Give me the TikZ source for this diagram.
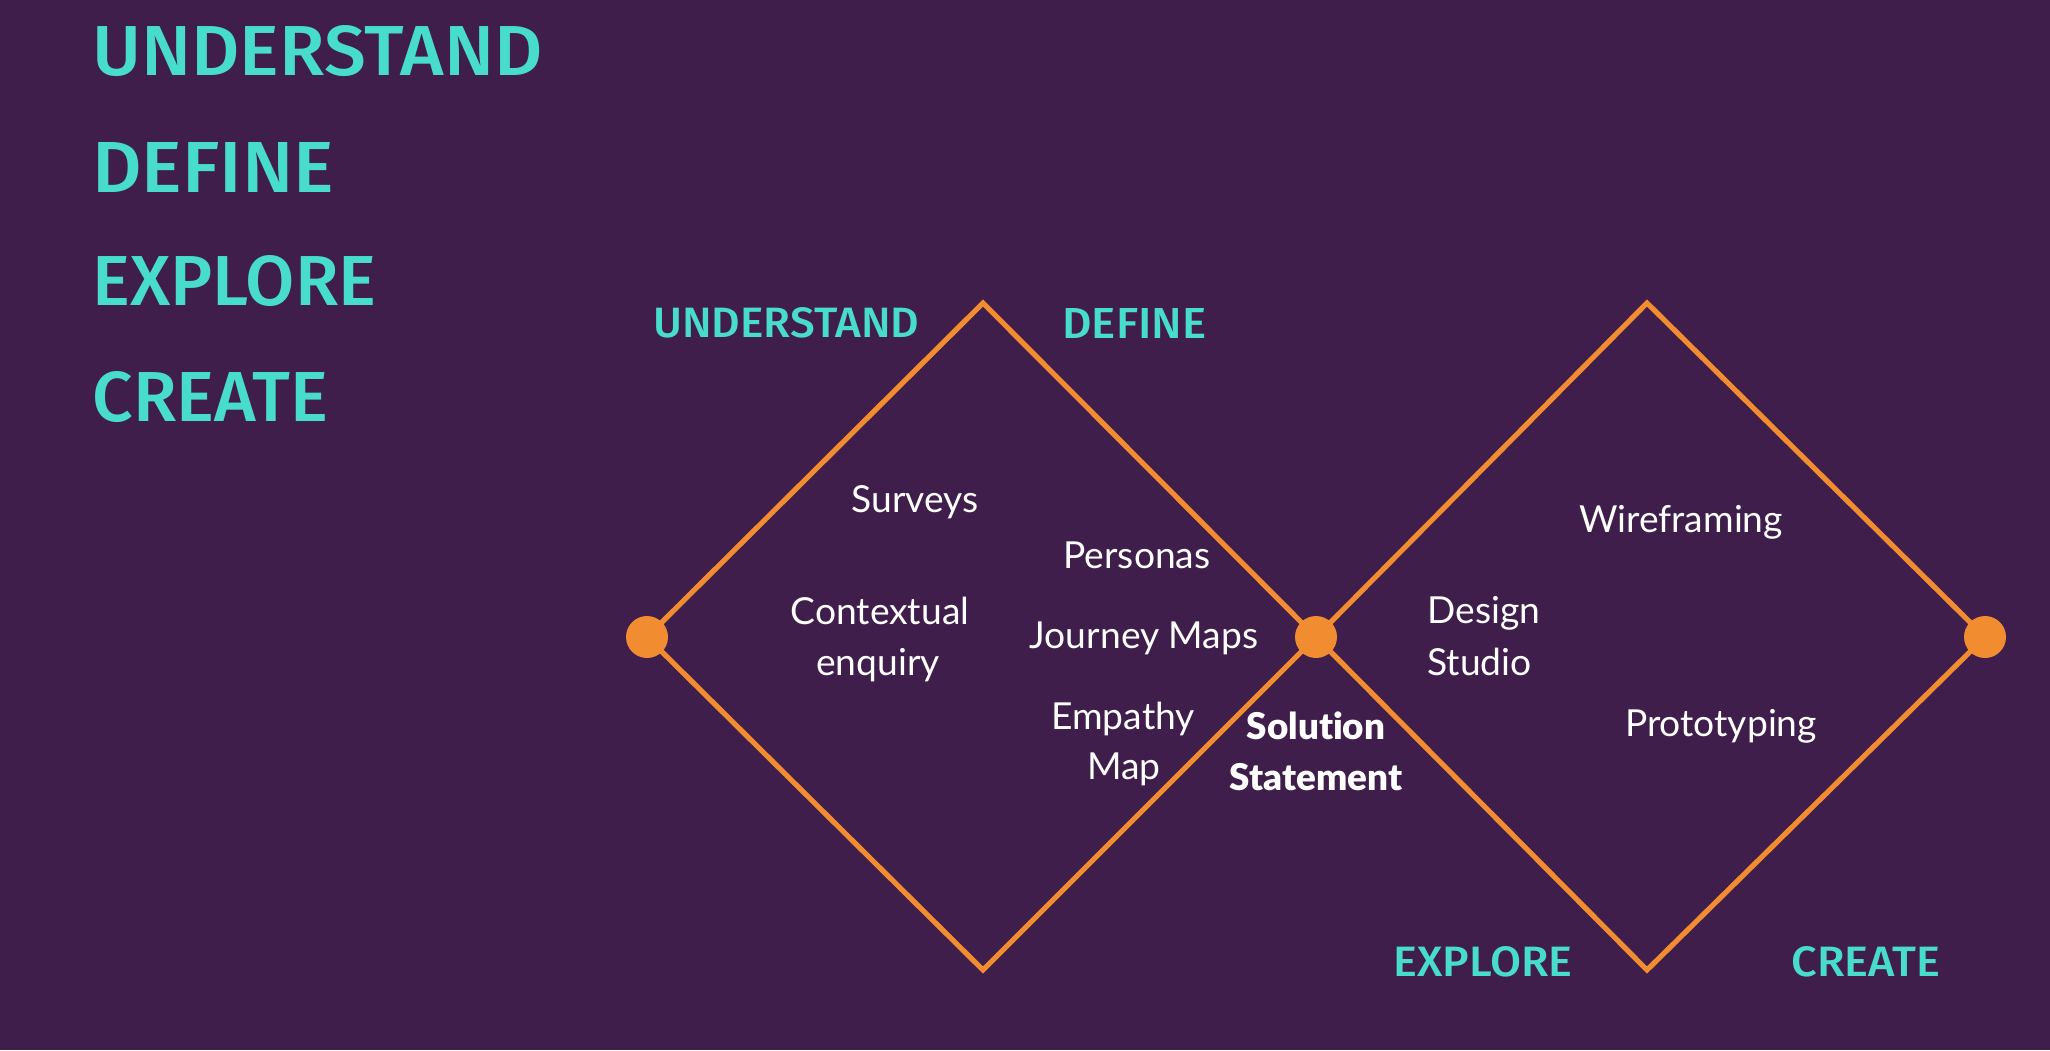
\documentclass[tikz,border=0pt]{standalone}
\usepackage{fontspec}
\setmainfont{Lato}[Ligatures=NoCommon]
\newfontfamily\heavyfont{Lato}[UprightFont=* Black, Ligatures=NoCommon]
\newfontfamily\dinfont[UprightFont=* Medium]{Fira Sans}
\usepackage{graphicx}
\usetikzlibrary{backgrounds}

\definecolor{bgplum}{RGB}{64,30,75}
\definecolor{lineorange}{RGB}{242,140,48}
\definecolor{stageteal}{RGB}{72,220,204}

% heading set to an exact width and cap height
\newcommand{\stagetext}[3]{\resizebox{#1}{#2}{\dinfont #3}}

\tikzset{
  stagelabel/.style={anchor=south west, inner sep=0pt, text=stageteal},
  method/.style={anchor=base, inner sep=0pt, text=white, font=\fontsize{18.6}{22}\selectfont},
  methodleft/.style={method, anchor=base west},
  keystep/.style={anchor=base, inner sep=0pt, text=white, font=\fontsize{18.4}{22}\heavyfont},
  diamondline/.style={draw=lineorange, line width=2.6pt, line join=miter},
  joint/.style={circle, fill=lineorange, inner sep=0pt, minimum size=21pt}
}

\begin{document}
\begin{tikzpicture}[x=0.5pt, y=-0.5pt]
  \useasboundingbox (0,0) rectangle (2050,1050);

  % stage list
  \node[stagelabel] (lu) at (92,77)  {\stagetext{225pt}{25pt}{UNDERSTAND}};
  \node[stagelabel] (ld) at (92,193) {\stagetext{121pt}{25pt}{DEFINE}};
  \node[stagelabel] (le) at (92,307) {\stagetext{142pt}{25pt}{EXPLORE}};
  \node[stagelabel] (lc) at (92,423) {\stagetext{118pt}{25pt}{CREATE}};

  % diamond corners and joints
  \coordinate (t1) at (983,303);
  \coordinate (b1) at (983,970);
  \coordinate (t2) at (1647,303);
  \coordinate (b2) at (1647,970);
  \node[joint] (jl) at (647,637) {};
  \node[joint] (jm) at (1316,637) {};
  \node[joint] (jr) at (1985,637) {};

  % canvas and the two diamonds, behind the joints
  \begin{scope}[on background layer]
    \fill[bgplum] (0,0) rectangle (2050,1050);
    \draw[diamondline] (jl.center) -- (t1) -- (jm.center) -- (b1) -- cycle;
    \draw[diamondline] (jm.center) -- (t2) -- (jr.center) -- (b2) -- cycle;
  \end{scope}

  % stage labels around the diamonds
  \node[stagelabel] (su) at (653,339)  {\stagetext{133pt}{15pt}{UNDERSTAND}};
  \node[stagelabel] (sd) at (1062,339) {\stagetext{72pt}{15pt}{DEFINE}};
  \node[stagelabel] (se) at (1393,978) {\stagetext{89.5pt}{15pt}{EXPLORE}};
  \node[stagelabel] (sc) at (1791,978) {\stagetext{74.5pt}{15pt}{CREATE}};

  % methods, first diamond
  \node[method] (surveys)  at (915,512)  {Surveys};
  \node[method] (ctxa)     at (880,624)  {Contextual};
  \node[method] (ctxb)     at (878,675)  {enquiry};
  \node[method] (personas) at (1137,568) {Personas};
  \node[method] (journey)  at (1144,648) {Journey Maps};
  \node[method] (empa)     at (1123,729) {Empathy};
  \node[method] (empb)     at (1124,779) {Map};

  % hand-over between the diamonds
  \node[keystep] (sola) at (1316,739) {Solution};
  \node[keystep] (solb) at (1316,790) {Statement};

  % methods, second diamond
  \node[methodleft] (desa) at (1427,623) {Design};
  \node[methodleft] (desb) at (1427,675) {Studio};
  \node[method] (wire)  at (1681,532) {Wireframing};
  \node[method] (proto) at (1721,736) {Prototyping};
\end{tikzpicture}
\end{document}
